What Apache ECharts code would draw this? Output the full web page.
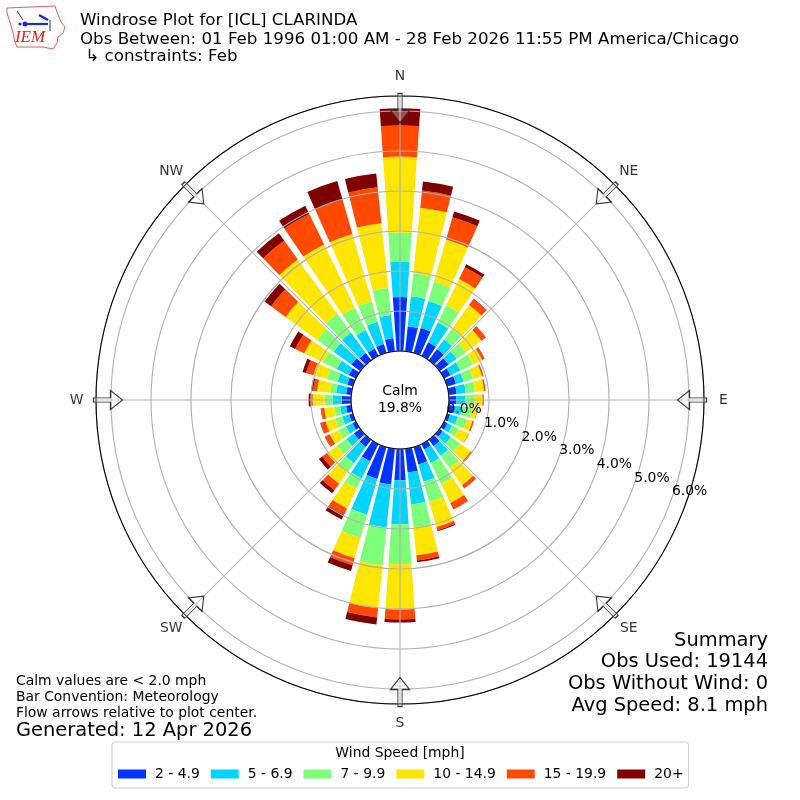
<!DOCTYPE html>
<html><head><meta charset="utf-8">
<style>html,body{margin:0;padding:0;background:#fff}#c{width:800px;height:800px}</style>
<script src="https://cdn.jsdelivr.net/npm/echarts@6/dist/echarts.min.js"></script>
</head><body><div id="c"></div>
<script>
const directions=[0,10,20,30,40,50,60,70,80,90,100,110,120,130,140,150,160,170,180,190,200,210,220,230,240,250,260,270,280,290,300,310,320,330,340,350];
const speedBins=['2 - 4.9','5 - 6.9','7 - 9.9','10 - 14.9','15 - 19.9','20+'];
const binColors=['#0033ff','#00d4ff','#7dff7a','#ffe600','#ff4a00','#7f0000'];
const s2to5=[1.35,.63,.65,.38,.35,.28,.18,.23,.20,.18,.13,.08,.10,.10,.20,.15,.45,.60,.78,.90,.83,.48,.23,.20,.10,.10,.13,.23,.13,.15,.20,.28,.23,.21,.23,.33];
const s5to7=[.88,.75,.70,.55,.30,.25,.28,.20,.23,.23,.20,.20,.13,.25,.30,.38,.45,.80,1.10,1.08,.93,.48,.50,.23,.18,.18,.15,.23,.25,.25,.33,.55,.63,.51,.58,.58];
const s7to10=[.73,.58,.50,.48,.33,.28,.35,.25,.23,.23,.25,.23,.18,.28,.38,.58,.53,.58,1.00,.95,.60,.28,.28,.30,.20,.18,.15,.20,.15,.28,.38,.50,.58,.63,.53,.68];
const s10to15=[1.90,1.65,1.10,.73,.73,.48,.25,.23,.23,.20,.13,.15,.28,.33,.53,.53,.65,.70,1.13,1.08,.53,.55,.35,.30,.25,.25,.25,.30,.33,.35,.53,.98,1.68,1.75,1.75,1.63];
const s15to20=[.78,.43,.58,.33,.18,.13,.06,.04,.04,.03,.01,.04,.01,.05,.10,.18,.08,.13,.25,.23,.18,.18,.20,.15,.13,.13,.08,.05,.10,.19,.25,.45,.58,.85,.90,.90];
const s20plus=[.43,.23,.15,.08,.01,.01,.01,0,0,0,0,0,0,0,0,0,.03,.04,.08,.18,.15,.13,.10,.10,.01,.01,.01,.05,.05,.09,.15,.20,.23,.23,.48,.35];
const binValues=[s2to5,s5to7,s7to10,s10to15,s15to20,s20plus];
const compassAngles=[0,45,90,135,180,225,270,315];
const compassLabels=['N','NE','E','SE','S','SW','W','NW'];
const radialTicks=[0,1,2,3,4,5,6];
const radiusMax=6.375;
const arrowRadius=6.075;
const font='"DejaVu Sans"';
const arrowPath='path://M7,0 L11,0 L11,17 L18,17 L9,29 L0,17 L7,17 Z';

const chart=echarts.init(document.getElementById('c'),null,{renderer:'canvas'});
const txt=(text,x,y,size,align)=>({type:'text',x,y:y+1,z:20,style:{text,fontFamily:font,fontSize:size,fill:'#000',textAlign:align||'left',textVerticalAlign:'middle'}});
const logo=[
 {type:'polygon',z:20,shape:{points:[[7,8],[55,6],[57,12],[59,17],[61,22],[65,27],[63,33],[58,37],[57,43],[53,49],[43,47],[17,47],[15,42],[13,33],[10,22],[7,13]]},style:{fill:'#fff',stroke:'#e06060',lineWidth:1}},
 {type:'line',z:21,shape:{x1:25,y1:24,x2:48,y2:24},style:{stroke:'#1c2bc8',lineWidth:2.2}},
 {type:'line',z:21,shape:{x1:17,y1:11,x2:23,y2:20},style:{stroke:'#1c2bc8',lineWidth:1}},
 {type:'line',z:21,shape:{x1:39,y1:15,x2:48,y2:20},style:{stroke:'#1c2bc8',lineWidth:2.5}},
 {type:'line',z:21,shape:{x1:50,y1:20,x2:50,y2:31},style:{stroke:'#1c2bc8',lineWidth:1}},
 {type:'circle',z:21,shape:{cx:25,cy:24,r:2.5},style:{fill:'#1c2bc8'}},
 {type:'circle',z:21,shape:{cx:20,cy:24,r:1.5},style:{fill:'#1c2bc8'}},
 {type:'text',z:21,x:30,y:38,style:{text:'IEM',fontFamily:'"Liberation Serif"',fontStyle:'italic',fontSize:17,fill:'#d22',textAlign:'center',textVerticalAlign:'middle'}}
];
const option={
 animation:false,
 backgroundColor:'#fff',
 textStyle:{fontFamily:font},
 polar:[
  {center:[400,400],radius:[49,304]},
  {center:[400,400],radius:[49,304]},
  {center:[418,393],radius:[49,304]},
  {center:[400,400],radius:[0,323.5]}
 ],
 angleAxis:[
  {polarIndex:0,type:'category',data:directions,startAngle:95,z:3,boundaryGap:true,axisLine:{show:true,lineStyle:{color:'#000',width:1.1}},axisTick:{show:false},axisLabel:{show:false},splitLine:{show:false}},
  {polarIndex:1,type:'value',min:0,max:360,interval:45,startAngle:90,z:3,axisLine:{show:false},axisTick:{show:false},axisLabel:{show:false},
   splitLine:{show:true,lineStyle:{color:'#b0b0b0',width:1.1}}},
  {polarIndex:2,type:'value',min:0,max:360,startAngle:-20,show:false},
  {polarIndex:3,type:'value',min:0,max:360,startAngle:90,show:false}
 ],
 radiusAxis:[
  {polarIndex:0,type:'value',min:0,max:radiusMax,interval:1,z:3,axisLine:{show:false},axisTick:{show:false},axisLabel:{show:false},splitLine:{show:true,showMaxLine:false,lineStyle:{color:'#b0b0b0',width:1.1}}},
  {polarIndex:1,type:'value',min:0,max:radiusMax,show:false},
  {polarIndex:2,type:'value',min:0,max:radiusMax,interval:1,z:6,axisLine:{show:false},axisTick:{show:false},splitLine:{show:false},
   axisLabel:{show:true,showMaxLabel:false,margin:0,color:'#000',fontSize:13.9,fontFamily:font,align:'center',verticalAlign:'middle',
    formatter:v=>radialTicks.includes(v)?v.toFixed(1)+'%':''}},
  {polarIndex:3,type:'value',min:0,max:1,show:false}
 ],
 legend:{left:112,top:742,orient:'horizontal',selectedMode:false,icon:'rect',itemWidth:28,itemHeight:9,itemGap:11,padding:[25,5,7,6],
  backgroundColor:'#fff',borderColor:'#ccc',borderWidth:1,borderRadius:3,textStyle:{fontSize:13.9,fontFamily:font,color:'#000',padding:[0,0,0,4]},data:speedBins},
 series:[
  ...speedBins.map((name,i)=>({type:'bar',name,coordinateSystem:'polar',polarIndex:0,angleAxisIndex:0,radiusAxisIndex:0,stack:'wind',barWidth:'80%',z:2,
    itemStyle:{color:binColors[i]},data:binValues[i]})),
  {type:'scatter',coordinateSystem:'polar',polarIndex:1,angleAxisIndex:1,radiusAxisIndex:1,z:10,silent:true,
   symbol:arrowPath,symbolSize:[19,29],
   symbolRotate:(v)=>-v[1],
   itemStyle:{color:'rgba(255,255,255,0.3)',borderColor:'#333',borderWidth:1.1,opacity:1},
   data:compassAngles.map(a=>[arrowRadius,a])},
  {type:'scatter',coordinateSystem:'polar',polarIndex:3,angleAxisIndex:3,radiusAxisIndex:3,z:11,silent:true,
   symbolSize:1,itemStyle:{color:'rgba(0,0,0,0)'},
   label:{show:true,position:'inside',color:'#000',fontSize:13.9,fontFamily:font,align:'center',verticalAlign:'middle',formatter:p=>compassLabels[p.dataIndex]},
   data:compassAngles.map(a=>[1,a])}
 ],
 graphic:{elements:[
  ...logo,
  txt('Windrose Plot for [ICL] CLARINDA',80,20,16.67),
  txt('Obs Between: 01 Feb 1996 01:00 AM - 28 Feb 2026 11:55 PM America/Chicago',80,38.5,16.67),
  txt(' \u21b3 constraints: Feb',80,56,16.67),
  txt('Calm',400,390.5,13.9,'center'),
  txt('19.8%',400,407,13.9,'center'),
  txt('Calm values are < 2.0 mph',16,680,13.9),
  txt('Bar Convention: Meteorology',16,696,13.9),
  txt('Flow arrows relative to plot center.',16,712,13.9),
  txt('Generated: 12 Apr 2026',16,730,19.44),
  txt('Summary',768,640,19.44,'right'),
  txt('Obs Used: 19144',768,661,19.44,'right'),
  txt('Obs Without Wind: 0',768,683,19.44,'right'),
  txt('Avg Speed: 8.1 mph',768,705,19.44,'right'),
  txt('Wind Speed [mph]',400,752,13.9,'center')
 ]}
};
chart.setOption(option);
</script></body></html>
